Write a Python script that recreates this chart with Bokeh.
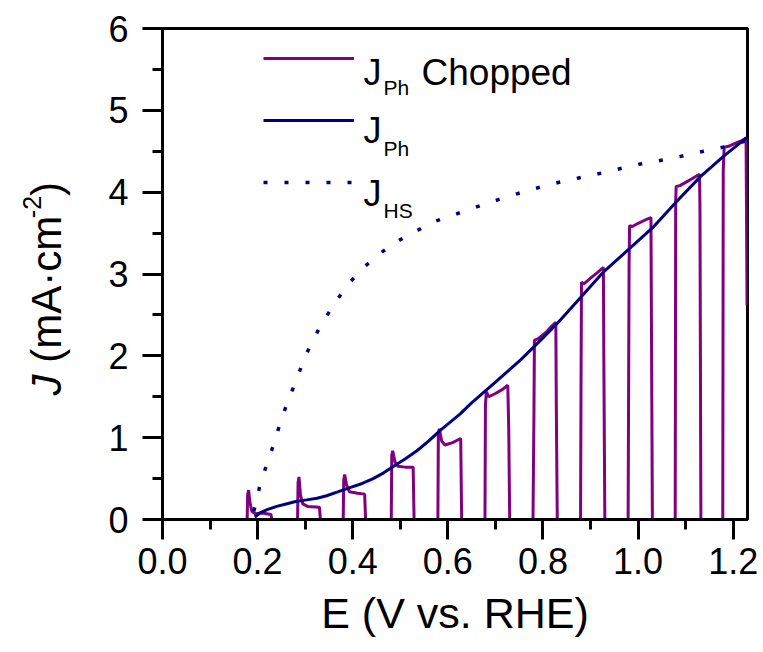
import math
from bokeh.plotting import figure
from bokeh.layouts import row
from bokeh.models import Range1d, FixedTicker, Label, Legend, LegendItem
from bokeh.core.properties import value
from bokeh.embed import file_html
from bokeh.resources import INLINE

# ---------------- data ----------------
chop_E = [0.137, 0.178, 0.179, 0.181, 0.184, 0.188, 0.195, 0.210, 0.228, 0.230,
          0.284, 0.285, 0.287, 0.290, 0.295, 0.305, 0.330, 0.332,
          0.380, 0.381, 0.383, 0.387, 0.393, 0.410, 0.425, 0.427,
          0.481, 0.482, 0.484, 0.489, 0.495, 0.510, 0.527, 0.529,
          0.579, 0.580, 0.582, 0.587, 0.594, 0.610, 0.627, 0.629,
          0.678, 0.679, 0.681, 0.686, 0.700, 0.715, 0.726, 0.728, 0.730,
          0.779, 0.781, 0.782, 0.790, 0.805, 0.818, 0.827, 0.828, 0.830,
          0.879, 0.880, 0.881, 0.886, 0.900, 0.915, 0.927, 0.928, 0.930,
          0.979, 0.981, 0.982, 0.988, 1.000, 1.015, 1.027, 1.028, 1.030,
          1.078, 1.079, 1.080, 1.088, 1.100, 1.115, 1.129, 1.130, 1.132,
          1.178, 1.179, 1.181, 1.190, 1.205, 1.218, 1.227, 1.229]
chop_J = [0.0, 0.0, 0.30, 0.36, 0.20, 0.10, 0.07, 0.08, 0.06, 0.0,
          0.0, 0.45, 0.52, 0.30, 0.19, 0.16, 0.15, 0.0,
          0.0, 0.48, 0.55, 0.42, 0.34, 0.32, 0.31, 0.0,
          0.0, 0.78, 0.84, 0.70, 0.65, 0.64, 0.64, 0.0,
          0.0, 1.05, 1.11, 0.96, 0.91, 0.94, 0.99, 0.0,
          0.0, 1.40, 1.56, 1.50, 1.54, 1.59, 1.64, 1.10, 0.0,
          0.0, 1.30, 2.19, 2.21, 2.28, 2.36, 2.41, 1.40, 0.0,
          0.0, 1.70, 2.90, 2.88, 2.95, 3.02, 3.08, 1.90, 0.0,
          0.0, 3.10, 3.59, 3.58, 3.62, 3.66, 3.69, 2.40, 0.0,
          0.0, 3.88, 4.07, 4.08, 4.12, 4.17, 4.22, 3.86, 0.0,
          0.0, 4.27, 4.55, 4.56, 4.60, 4.63, 4.66, 2.62]

jph_E = [0.194, 0.205, 0.220, 0.240, 0.260, 0.280, 0.303, 0.325, 0.345, 0.370,
         0.394, 0.420, 0.443, 0.465, 0.486, 0.510, 0.535, 0.560, 0.584, 0.626,
         0.647, 0.700, 0.753, 0.800, 0.837, 0.880, 0.928, 0.980, 1.033, 1.080,
         1.131, 1.180, 1.229]
jph_J = [0.03, 0.08, 0.12, 0.16, 0.19, 0.22, 0.24, 0.26, 0.29, 0.34,
         0.39, 0.44, 0.50, 0.57, 0.65, 0.74, 0.84, 0.96, 1.09, 1.29,
         1.41, 1.68, 1.95, 2.22, 2.44, 2.72, 3.03, 3.30, 3.58, 3.88,
         4.19, 4.44, 4.67]

jhs_E = [0.192, 0.205, 0.219, 0.234, 0.247, 0.262, 0.279, 0.296, 0.314, 0.337,
         0.365, 0.394, 0.429, 0.464, 0.500, 0.535, 0.571, 0.607, 0.645, 0.681,
         0.717, 0.780, 0.819, 0.856, 0.928, 1.001, 1.068, 1.138, 1.187, 1.229]
jhs_J = [0.10, 0.42, 0.67, 0.92, 1.17, 1.42, 1.67, 1.93, 2.17, 2.41,
         2.67, 2.90, 3.11, 3.28, 3.42, 3.53, 3.64, 3.71, 3.79, 3.86,
         3.93, 4.04, 4.10, 4.15, 4.24, 4.34, 4.41, 4.50, 4.56, 4.63]

x_ticks = [0.0, 0.2, 0.4, 0.6, 0.8, 1.0, 1.2]
x_tick_labels = ["0.0", "0.2", "0.4", "0.6", "0.8", "1.0", "1.2"]
x_minor = [0.1, 0.3, 0.5, 0.7, 0.9, 1.1]
y_ticks = [0, 1, 2, 3, 4, 5, 6]
y_tick_labels = ["0", "1", "2", "3", "4", "5", "6"]
y_minor = [0.5, 1.5, 2.5, 3.5, 4.5, 5.5]

# ---------------- layout constants ----------------
W, H = 763, 652
LW = 100                               # width of the y-title strip
FL, FR, FT, FB = 162, 747, 28, 519     # frame edges in page pixels
X0, X1, Y0, Y1 = 0.0, 1.23, 0.0, 6.0
FONT = "Liberation Sans"

# ---------------- main figure ----------------
p = figure(width=W - LW, height=H, x_range=Range1d(X0, X1), y_range=Range1d(Y0, Y1),
           output_backend="svg", toolbar_location=None,
           min_border_left=FL - LW, min_border_right=W - FR,
           min_border_top=FT, min_border_bottom=H - FB)
p.grid.visible = False
p.outline_line_color = "black"
p.outline_line_width = 3
p.background_fill_color = "white"
p.border_fill_color = "white"

p.xaxis.ticker = FixedTicker(ticks=x_ticks, minor_ticks=x_minor)
p.yaxis.ticker = FixedTicker(ticks=y_ticks, minor_ticks=y_minor)
p.xaxis.major_label_overrides = {t: l for t, l in zip(x_ticks, x_tick_labels)}
p.yaxis.major_label_overrides = {t: l for t, l in zip(y_ticks, y_tick_labels)}

for ax in (p.xaxis[0], p.yaxis[0]):
    ax.axis_line_width = 3
    ax.axis_line_color = "black"
    ax.major_tick_line_width = 3
    ax.minor_tick_line_width = 3
    ax.major_tick_line_color = "black"
    ax.minor_tick_line_color = "black"
    ax.major_tick_out = 20
    ax.major_tick_in = 0
    ax.minor_tick_out = 10
    ax.minor_tick_in = 0
    ax.major_label_text_font = FONT
    ax.major_label_text_font_size = "36px"
    ax.major_label_text_color = "black"

p.xaxis.major_label_standoff = 8
p.yaxis.major_label_standoff = 14
p.xaxis.axis_label = "E (V vs. RHE)"
p.xaxis.axis_label_text_font = FONT
p.xaxis.axis_label_text_font_size = "43px"
p.xaxis.axis_label_text_font_style = "normal"
p.xaxis.axis_label_text_color = "black"
p.xaxis.axis_label_standoff = 12

# ---------------- series ----------------
r_chop = p.line(chop_E, chop_J, line_color="#800080", line_width=3)
r_jph = p.line(jph_E, jph_J, line_color="#000080", line_width=3)
r_jhs = p.line(jhs_E, jhs_J, line_color="#000080", line_width=3.5, line_dash="4 17")

legend = Legend(items=[LegendItem(label=" ", renderers=[r_chop]),
                       LegendItem(label=" ", renderers=[r_jph]),
                       LegendItem(label=" ", renderers=[r_jhs])],
                location=(263 - FL, FB - 192), orientation="vertical",
                glyph_width=91, glyph_height=20, label_height=20, label_width=1,
                label_text_font_size="8px", label_standoff=0, spacing=42,
                padding=0, margin=0, border_line_color=None,
                background_fill_alpha=0)
p.add_layout(legend)

# ---------------- legend texts (positions in page pixels) ----------------
pxE = (FR - FL) / (X1 - X0)
pxJ = (FB - FT) / (Y1 - Y0)

def ex(px):
    return X0 + (px - FL) / pxE

def jy(py):
    return Y0 + (FB - py) / pxJ

def add_text(txt, px, py, size, style="normal"):
    p.add_layout(Label(x=ex(px), y=jy(py), text=txt, text_font=FONT,
                       text_font_size=f"{size}px", text_font_style=style,
                       text_color="black", text_align="left",
                       text_baseline="alphabetic"))

add_text("J", 363, 72, 36)
add_text("Ph", 383, 87, 21)
add_text("Chopped", 421, 72, 37)
add_text("J", 363, 130, 36)
add_text("Ph", 383, 148, 21)
add_text("J", 363, 193, 36)
add_text("HS", 383, 210, 21)

# ---------------- y-title strip: J (mA·cm-2), rotated ----------------
# its frame spans the same rows as the main frame; y data = page-pixel row from bottom
q = figure(width=LW, height=H, x_range=Range1d(0, LW), y_range=Range1d(H - FB, H - FT),
           output_backend="svg", toolbar_location=None,
           x_axis_location=None, y_axis_location=None,
           min_border_left=0, min_border_right=0,
           min_border_top=FT, min_border_bottom=H - FB)
q.grid.visible = False
q.outline_line_color = None
q.background_fill_color = "white"
q.border_fill_color = "white"

A = math.pi / 2
ys = 395
parts = []
parts.append(("J", 46, ys, "42px", "italic"))
ys -= (0.5 + 0.278) * 42
parts.append(("(mA\u00b7cm", 46, ys, "42px", "normal"))
ys -= 3.444 * 42
parts.append(("-2", 31, ys, "25px", "normal"))
ys -= 0.889 * 25
parts.append((")", 46, ys, "42px", "normal"))

for txt, px, py, size, style in parts:
    q.text(x=[px], y=[H - py], text=[txt], angle=A,
           text_font=value(FONT), text_font_size=value(size),
           text_font_style=style, text_color="black",
           text_align="left", text_baseline="alphabetic")

layout = row(q, p, spacing=0)
open("out.html", "w").write(file_html(layout, INLINE))
